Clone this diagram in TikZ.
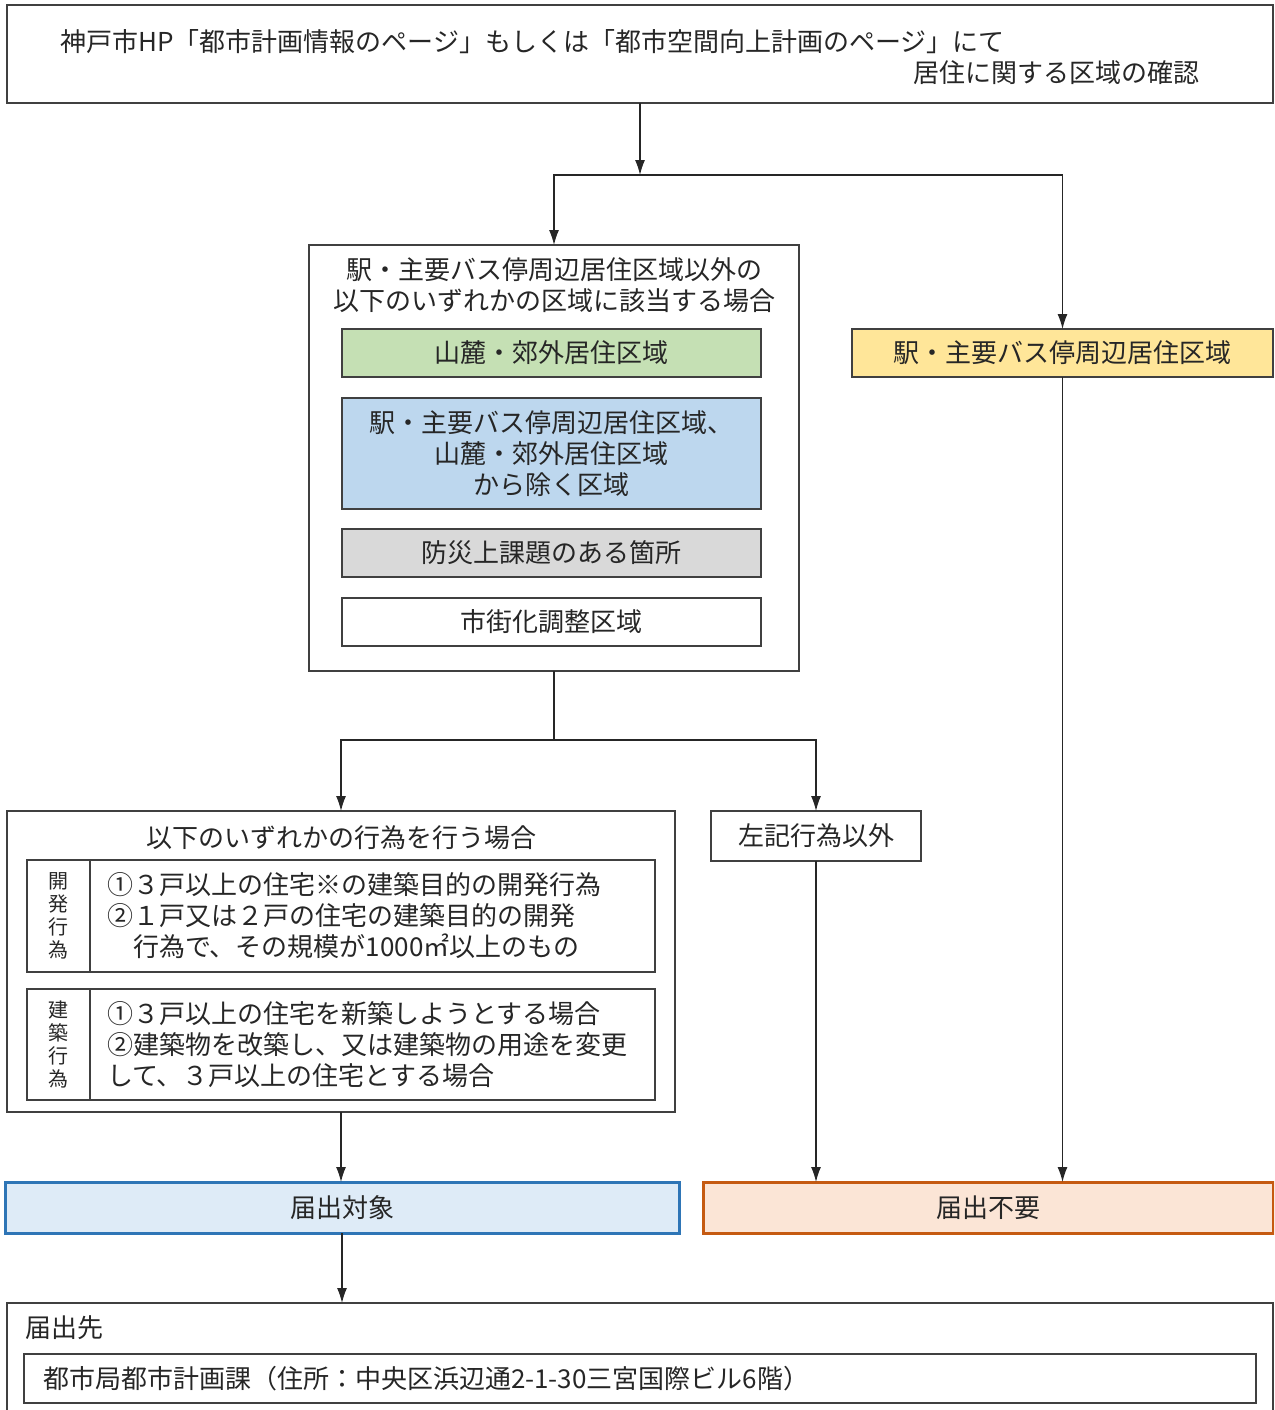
\documentclass[tikz,border=0pt]{standalone}
\usepackage{fontspec}
\setmainfont{Noto Sans CJK JP}
\usetikzlibrary{positioning,arrows.meta}
\definecolor{zonegreen}{HTML}{C5E0B4}
\definecolor{zoneblue}{HTML}{BDD7EE}
\definecolor{zonegray}{HTML}{D9D9D9}
\definecolor{zoneyellow}{HTML}{FFE699}
\definecolor{targetline}{HTML}{2E75B6}
\definecolor{targetfill}{HTML}{DEEBF7}
\definecolor{freeline}{HTML}{C55A11}
\definecolor{freefill}{HTML}{FBE5D6}
\newcommand{\jpfont}{\fontsize{26}{31}\selectfont}
\newcommand{\tatefont}{\fontsize{20}{23}\selectfont}
\tikzstyle{block} = [draw=black!75, rectangle, line width=1.3pt, inner sep=0pt,
    outer sep=0pt, align=center, font=\jpfont, text=black!85]
\tikzstyle{zone} = [block, minimum width=419pt, minimum height=48pt]
\tikzstyle{txt} = [inner sep=0pt, align=center, font=\jpfont, text=black!85]
\tikzstyle{conn} = [draw=black!85, line width=1.2pt]

\begin{document}
\begin{tikzpicture}[x=1pt, y=-1pt, >={Latex[length=15pt,width=10pt]}]
    \useasboundingbox (0,0) rectangle (1274,1410);
    \clip (0,0) rectangle (1274,1410);
    % We start with the check on the city homepage
    \node [block, minimum width=1266pt, minimum height=98pt] (check) at (640,54) {};
    \node [txt, anchor=west] (checka) at (60,42) {神戸市HP「都市計画情報のページ」もしくは「都市空間向上計画のページ」にて};
    \node [txt, anchor=east] (checkb) at (1200,73) {居住に関する区域の確認};
    % Areas outside the station zone
    \node [block, minimum width=490pt, minimum height=426pt] (outside) at (554,458) {};
    \node [txt] (outsidetitle) at (554,285) {駅・主要バス停周辺居住区域以外の\\以下のいずれかの区域に該当する場合};
    \node [zone, fill=zonegreen] (hill) at (551.5,353) {山麓・郊外居住区域};
    \node [zone, fill=zoneblue, minimum height=111pt, below=21pt of hill] (rest) {駅・主要バス停周辺居住区域、\\山麓・郊外居住区域\\から除く区域};
    \node [zone, fill=zonegray, below=20pt of rest] (hazard) {防災上課題のある箇所};
    \node [zone, below=21pt of hazard] (adjust) {市街化調整区域};
    \node [block, fill=zoneyellow, minimum width=421pt, minimum height=48pt] (station) at (1062.5,353) {駅・主要バス停周辺居住区域};
    % The acts that need a notice
    \node [block, minimum width=668pt, minimum height=301pt] (acts) at (341,961.5) {};
    \node [txt] (actstitle) at (341,838) {以下のいずれかの行為を行う場合};
    \node [block, minimum width=63pt, minimum height=112pt, font=\tatefont] (devlbl) at (58.5,916) {開\\発\\行\\為};
    \node [block, minimum width=565pt, minimum height=112pt, text width=531pt, align=left, right=0pt of devlbl] (dev)
        {①３戸以上の住宅※の建築目的の開発行為\\②１戸又は２戸の住宅の建築目的の開発\\　行為で、その規模が1000㎡以上のもの};
    \node [block, minimum width=63pt, minimum height=111pt, font=\tatefont] (bldlbl) at (58.5,1044.5) {建\\築\\行\\為};
    \node [block, minimum width=565pt, minimum height=111pt, text width=531pt, align=left, right=0pt of bldlbl] (bld)
        {①３戸以上の住宅を新築しようとする場合\\②建築物を改築し、又は建築物の用途を変更\\して、３戸以上の住宅とする場合};
    \node [block, minimum width=210pt, minimum height=50pt] (other) at (816,836) {左記行為以外};
    % Results
    \node [block, draw=targetline, fill=targetfill, line width=3pt, minimum width=674pt, minimum height=51pt] (target) at (342,1207.5) {届出対象};
    \node [block, draw=freeline, fill=freefill, line width=3pt, minimum width=570pt, minimum height=51pt] (free) at (988,1207.5) {届出不要};
    \node [block, minimum width=1266pt, minimum height=130pt] (dest) at (640,1368) {};
    \node [txt, anchor=west] (desttitle) at (25,1328) {届出先};
    \node [block, minimum width=1232pt, minimum height=49pt, text width=1194pt, align=left] (office) at (640,1378.5)
        {都市局都市計画課（住所：中央区浜辺通2-1-30三宮国際ビル6階）};
    % Connectors
    \coordinate (fork1) at (640,175);
    \coordinate (fork2) at (554,740);
    \draw [conn, ->] (check) -- (fork1);
    \draw [conn, ->] (fork1) -| (outside);
    \draw [conn, ->] (fork1) -| (station);
    \draw [conn] (outside) -- (fork2);
    \draw [conn, ->] (fork2) -| (acts);
    \draw [conn, ->] (fork2) -| (other);
    \draw [conn, ->] (other) -- (other |- free.north);
    \draw [conn, ->] (station) -- (station |- free.north);
    \draw [conn, ->] (acts) -- (acts |- target.north);
    \draw [conn, ->] (target) -- (target |- dest.north);
\end{tikzpicture}
\end{document}
